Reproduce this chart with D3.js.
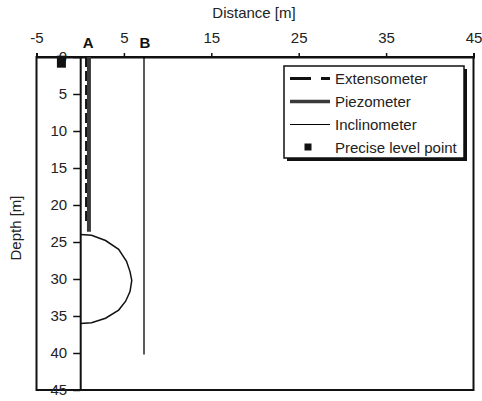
<!DOCTYPE html>
<html>
<head>
<meta charset="utf-8">
<script src="https://cdn.jsdelivr.net/npm/d3@7"></script>
<style>
  body { margin: 0; background: #fff; }
  svg { font-family: Arial, "Liberation Sans", Helvetica, sans-serif; }
</style>
</head>
<body>
<svg id="chart" width="482" height="401"></svg>
<script>
// values (distance in m, depth in m)
var xTicks = [-5, 5, 15, 25, 35, 45];
var yTicks = [0, 5, 10, 15, 20, 25, 30, 35, 40, 45];
var boreholes = [{name: "A", x: 0.9}, {name: "B", x: 7.4}];
var extensometer = [[0.7, 0], [0.7, 22.6]];
var piezometer = [[1.0, 0], [1.0, 23.6]];
var inclinometer = [[7.3, 0], [7.3, 40.2]];
var levelPoint = [[-2.15, 0.7]];
// outline of the zone on the left wall
var zone = [[0, 24.0], [1.3, 24.1], [2.9, 24.8], [4.4, 26.0], [5.3, 27.6], [5.7, 29.0],
            [5.9, 30.2], [5.7, 31.7], [5.2, 33.0], [4.4, 34.2], [2.9, 35.3], [1.3, 35.9], [0, 36.0]];
var legendItems = ["Extensometer", "Piezometer", "Inclinometer", "Precise level point"];

var svg = d3.select("#chart");
var x = d3.scaleLinear().domain([-5, 45]).range([36.5, 473.5]);
var y = d3.scaleLinear().domain([0, 45]).range([57, 390]);
var line = d3.line().x(function(d) { return x(d[0]); }).y(function(d) { return y(d[1]); });

// frame
svg.append("rect")
  .attr("x", x(-5)).attr("y", y(0))
  .attr("width", x(45) - x(-5)).attr("height", y(45) - y(0))
  .attr("fill", "none").attr("stroke", "#111").attr("stroke-width", 2);

// top axis
var xAxis = svg.append("g")
  .attr("transform", "translate(0," + y(0) + ")")
  .call(d3.axisTop(x).tickValues(xTicks).tickSize(4).tickPadding(10).tickFormat(function(d) { return String(d); }));
xAxis.select(".domain").attr("stroke", "#111").attr("stroke-width", 2);
xAxis.selectAll("line").attr("stroke", "#111").attr("stroke-width", 1.5);
xAxis.selectAll("text").attr("font-size", 15).attr("fill", "#222").attr("font-family", null);

// left axis sits on distance 0
var yAxis = svg.append("g")
  .attr("transform", "translate(" + x(0) + ",0)")
  .call(d3.axisLeft(y).tickValues(yTicks).tickSize(7).tickPadding(6).tickSizeOuter(0));
yAxis.select(".domain").attr("stroke", "#111").attr("stroke-width", 2);
yAxis.selectAll("line").attr("stroke", "#111").attr("stroke-width", 1.5);
yAxis.selectAll("text").attr("font-size", 15).attr("fill", "#222").attr("font-family", null);

// axis titles
svg.append("text").attr("x", 254).attr("y", 18).attr("text-anchor", "middle")
  .attr("font-size", 15).attr("fill", "#222").text("Distance [m]");
svg.append("text").attr("transform", "translate(21,228) rotate(-90)").attr("text-anchor", "middle")
  .attr("font-size", 15).attr("fill", "#222").text("Depth [m]");

// borehole names
svg.selectAll(".bh").data(boreholes).enter().append("text")
  .attr("x", function(d) { return x(d.x); }).attr("y", 48)
  .attr("text-anchor", "middle").attr("font-size", 15).attr("font-weight", "bold")
  .attr("fill", "#111").text(function(d) { return d.name; });

// instruments
svg.append("path").datum(inclinometer).attr("d", line)
  .attr("fill", "none").attr("stroke", "#000").attr("stroke-width", 1.3);
svg.append("path").datum(extensometer).attr("d", line)
  .attr("fill", "none").attr("stroke", "#111").attr("stroke-width", 2.5).attr("stroke-dasharray", "10,4");
svg.append("path").datum(piezometer).attr("d", line)
  .attr("fill", "none").attr("stroke", "#3a3a3a").attr("stroke-width", 4);
svg.append("path").datum(zone).attr("d", line)
  .attr("fill", "none").attr("stroke", "#111").attr("stroke-width", 1.5);
svg.selectAll(".lp").data(levelPoint).enter().append("rect")
  .attr("x", function(d) { return x(d[0]) - 4.5; })
  .attr("y", function(d) { return y(d[1]) - 6.5; })
  .attr("width", 9).attr("height", 12).attr("fill", "#111");

// legend
var lg = svg.append("g").attr("transform", "translate(284,66)");
lg.append("rect").attr("x", 3).attr("y", 3).attr("width", 180).attr("height", 92).attr("fill", "#111");
lg.append("rect").attr("x", 0).attr("y", 0).attr("width", 180).attr("height", 92)
  .attr("fill", "#fff").attr("stroke", "#111").attr("stroke-width", 1.5);
var rows = lg.selectAll(".row").data(legendItems).enter().append("g")
  .attr("transform", function(d, i) { return "translate(0," + (12.5 + i * 23) + ")"; });
rows.append("text").attr("x", 51).attr("y", 5).attr("font-size", 15).attr("fill", "#222")
  .text(function(d) { return d; });
rows.filter(function(d, i) { return i === 0; }).append("line")
  .attr("x1", 6).attr("x2", 46).attr("stroke", "#111").attr("stroke-width", 3).attr("stroke-dasharray", "21,10,9");
rows.filter(function(d, i) { return i === 1; }).append("line")
  .attr("x1", 6).attr("x2", 46).attr("stroke", "#3a3a3a").attr("stroke-width", 3.5);
rows.filter(function(d, i) { return i === 2; }).append("line")
  .attr("x1", 6).attr("x2", 46).attr("stroke", "#000").attr("stroke-width", 1.2);
rows.filter(function(d, i) { return i === 3; }).append("rect")
  .attr("x", 20.5).attr("y", -4).attr("width", 7).attr("height", 7).attr("fill", "#111");
</script>
</body>
</html>
